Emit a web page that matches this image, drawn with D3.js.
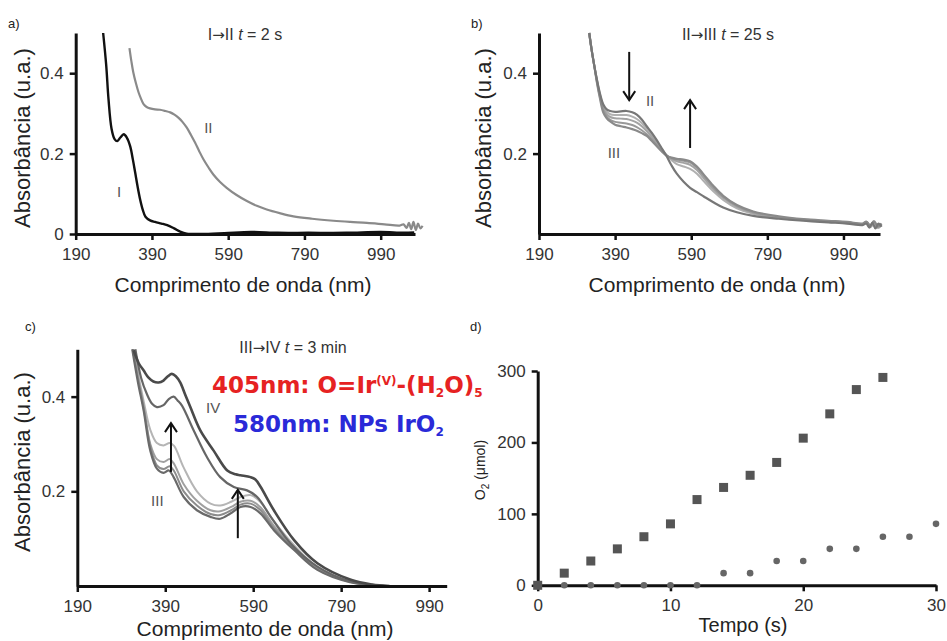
<!DOCTYPE html>
<html>
<head>
<meta charset="utf-8">
<script src="https://cdn.jsdelivr.net/npm/d3@7"></script>
<style>
body { margin: 0; background: #fff; }
text { font-family: "Liberation Sans", Arial, sans-serif; }
</style>
</head>
<body>
<script>
// ---- data ----
const xTicksNm = [190, 390, 590, 790, 990];

// panel a: I -> II, t = 2 s  [nm, absorbance]
const specI = [[262,0.5],[270,0.42],[276,0.336],[284,0.262],[292,0.236],[299,0.231],[307,0.24],[316,0.248],[324,0.24],[333,0.218],[340,0.185],[346,0.153],[352,0.12],[359,0.086],[366,0.06],[373,0.043],[385,0.034],[398,0.03],[415,0.026],[430,0.022],[448,0.014],[464,0.006],[481,0.001],[520,0],[580,0.002],[650,0.005],[720,0.003],[800,0.003],[900,0.003],[990,0.005],[1050,0.003],[1078,0.004]];
const specII = [[331,0.4625],[336,0.43],[341,0.4025],[348,0.375],[355,0.352],[362,0.335],[368,0.323],[376,0.316],[385,0.3125],[398,0.31],[411,0.309],[425,0.306],[438,0.3025],[449,0.297],[460,0.289],[470,0.279],[481,0.265],[492,0.247],[503,0.2275],[514,0.206],[525,0.186],[538,0.166],[551,0.148],[568,0.13],[586,0.115],[612,0.097],[639,0.082],[665,0.07],[691,0.061],[725,0.052],[761,0.044],[810,0.038],[866,0.033],[910,0.03],[954,0.0275],[1000,0.024],[1040,0.021],[1050,0.024],[1058,0.015],[1064,0.028],[1070,0.012],[1076,0.03],[1082,0.01],[1088,0.026],[1094,0.014],[1100,0.02]];

// panel b: II -> III, t = 25 s
const specB_II = [[322,0.5],[328,0.46],[335,0.42],[342,0.385],[350,0.35],[359,0.322],[368,0.31],[377,0.306],[390,0.304],[405,0.305],[420,0.306],[435,0.303],[447,0.297],[460,0.285],[473,0.268],[486,0.252],[499,0.234],[512,0.214],[525,0.194],[538,0.171],[552,0.15],[570,0.13],[587,0.115],[605,0.104],[622,0.094],[648,0.079],[674,0.066],[710,0.054],[753,0.045],[820,0.038],[885,0.033],[950,0.029],[1000,0.026],[1040,0.022],[1050,0.026],[1058,0.016],[1066,0.028],[1074,0.014],[1082,0.026],[1090,0.018]];
const specB_1 = [[322,0.5],[328,0.46],[335,0.42],[342,0.385],[350,0.348],[359,0.318],[368,0.304],[377,0.298],[390,0.296],[405,0.296],[420,0.296],[435,0.292],[447,0.286],[460,0.276],[473,0.262],[486,0.247],[499,0.229],[512,0.212],[525,0.196],[538,0.184],[552,0.174],[570,0.168],[587,0.162],[605,0.15],[622,0.132],[648,0.106],[674,0.085],[710,0.064],[753,0.05],[820,0.04],[885,0.034],[950,0.03],[1000,0.027],[1040,0.023],[1050,0.027],[1060,0.017],[1070,0.027],[1080,0.015],[1090,0.022]];
const specB_2 = [[322,0.5],[328,0.46],[335,0.42],[342,0.383],[350,0.345],[359,0.313],[368,0.298],[377,0.291],[390,0.288],[405,0.287],[420,0.286],[435,0.282],[447,0.277],[460,0.268],[473,0.256],[486,0.242],[499,0.226],[512,0.21],[525,0.196],[538,0.187],[552,0.181],[570,0.177],[587,0.172],[605,0.159],[622,0.14],[648,0.112],[674,0.09],[710,0.068],[753,0.052],[820,0.041],[885,0.035],[950,0.031],[1000,0.028],[1040,0.024],[1052,0.029],[1062,0.018],[1072,0.029],[1082,0.016],[1090,0.024]];
const specB_3 = [[322,0.5],[328,0.46],[335,0.42],[342,0.38],[350,0.342],[359,0.308],[368,0.292],[377,0.284],[390,0.279],[405,0.277],[420,0.275],[435,0.271],[447,0.266],[460,0.258],[473,0.248],[486,0.236],[499,0.222],[512,0.208],[525,0.196],[538,0.189],[552,0.185],[570,0.182],[587,0.178],[605,0.165],[622,0.146],[648,0.117],[674,0.093],[710,0.07],[753,0.054],[820,0.042],[885,0.036],[950,0.032],[1000,0.029],[1040,0.025],[1050,0.03],[1060,0.02],[1070,0.03],[1080,0.018],[1090,0.025]];
const specB_III = [[322,0.5],[328,0.46],[335,0.42],[342,0.378],[350,0.338],[359,0.302],[368,0.288],[377,0.28],[390,0.272],[405,0.268],[420,0.265],[435,0.261],[447,0.257],[460,0.251],[473,0.244],[486,0.232],[499,0.219],[512,0.206],[525,0.195],[538,0.19],[552,0.187],[570,0.185],[587,0.181],[605,0.168],[622,0.149],[648,0.12],[674,0.095],[710,0.072],[753,0.056],[820,0.044],[885,0.037],[950,0.033],[1000,0.03],[1040,0.026],[1050,0.031],[1060,0.021],[1070,0.032],[1080,0.019],[1090,0.026]];

// panel c: III -> IV, t = 3 min
const specC_III = [[315,0.5],[328,0.43],[341,0.37],[356,0.286],[371,0.248],[386,0.239],[398,0.244],[409,0.23],[432,0.188],[462,0.16],[493,0.146],[515,0.142],[538,0.153],[561,0.167],[584,0.167],[607,0.153],[637,0.118],[683,0.076],[736,0.034],[810,0.008],[890,0]];
const specC_1 = [[316,0.5],[329,0.433],[341,0.375],[356,0.295],[371,0.255],[386,0.247],[400,0.253],[410,0.243],[432,0.2],[462,0.17],[493,0.152],[515,0.15],[540,0.16],[561,0.172],[584,0.174],[607,0.16],[637,0.122],[683,0.078],[736,0.036],[810,0.009],[890,0]];
const specC_2 = [[316,0.5],[329,0.435],[341,0.38],[356,0.3],[371,0.268],[386,0.262],[400,0.268],[410,0.258],[432,0.215],[462,0.18],[493,0.16],[515,0.158],[540,0.167],[561,0.178],[584,0.18],[607,0.166],[637,0.127],[683,0.08],[736,0.037],[810,0.009],[892,0]];
const specC_3 = [[318,0.5],[330,0.44],[341,0.39],[356,0.33],[371,0.302],[386,0.297],[400,0.302],[410,0.296],[432,0.25],[462,0.2],[493,0.174],[515,0.17],[540,0.178],[561,0.188],[584,0.192],[607,0.177],[637,0.137],[683,0.086],[736,0.04],[810,0.01],[895,0]];
const specC_4 = [[322,0.5],[335,0.44],[348,0.406],[360,0.385],[371,0.378],[386,0.382],[398,0.395],[409,0.4],[418,0.392],[428,0.381],[455,0.328],[485,0.272],[515,0.23],[546,0.209],[576,0.202],[599,0.188],[630,0.146],[675,0.09],[736,0.041],[810,0.01],[900,0]];
const specC_IV = [[318,0.498],[330,0.47],[341,0.455],[352,0.44],[363,0.432],[375,0.43],[386,0.434],[396,0.443],[405,0.448],[414,0.443],[424,0.43],[435,0.405],[447,0.378],[470,0.328],[500,0.286],[531,0.244],[550,0.236],[561,0.234],[584,0.23],[595,0.225],[607,0.209],[637,0.16],[683,0.097],[736,0.048],[812,0.013],[860,0.003],[900,0]];

// panel d: O2 evolution
const tempoSq = [0, 2, 4, 6, 8, 10, 12, 14, 16, 18, 20, 22, 24, 26];
const o2Sq = [0, 17, 34, 51, 68, 86, 120, 137, 154, 172, 206, 240, 274, 291];
const tempoCi = [0, 2, 4, 6, 8, 10, 12, 14, 16, 18, 20, 22, 24, 26, 28, 30];
const o2Ci = [0, 0, 0, 0, 0, 0, 0, 17, 17, 34, 34, 51, 51, 68, 68, 86];

// ---- drawing ----
const width = 947, height = 641;
const svg = d3.select("body").append("svg")
    .attr("width", width)
    .attr("height", height);

const fmtA = d => d === 0 ? "0" : d3.format(".1f")(d);

function drawAxes(x, y, xTicks, yTicks, xFmt, yFmt) {
  const gx = svg.append("g")
      .attr("transform", `translate(0,${y.range()[0]})`)
      .call(d3.axisBottom(x).tickValues(xTicks).tickSize(6).tickSizeOuter(0).tickPadding(8).tickFormat(xFmt));
  const gy = svg.append("g")
      .attr("transform", `translate(${x.range()[0]},0)`)
      .call(d3.axisLeft(y).tickValues(yTicks).tickSize(6).tickSizeOuter(0).tickPadding(6).tickFormat(yFmt));
  [gx, gy].forEach(g => {
    g.select(".domain").attr("stroke", "#111").attr("stroke-width", 3);
    g.selectAll(".tick line").attr("stroke", "#111").attr("stroke-width", 2.5);
    g.selectAll(".tick text").attr("fill", "#333")
        .style("font-size", "17px").style("font-family", "'Liberation Sans', Arial, sans-serif");
  });
}

function text(x, y, str, size, opts = {}) {
  return svg.append("text")
      .attr("x", x).attr("y", y)
      .attr("text-anchor", opts.anchor || "middle")
      .attr("fill", opts.fill || "#222")
      .attr("transform", opts.rotate ? `rotate(-90,${x},${y})` : null)
      .style("font-size", size + "px")
      .text(str);
}

function title(x, y, from, to, tval) {
  const t = svg.append("text").attr("x", x).attr("y", y)
      .attr("text-anchor", "middle").attr("fill", "#333").style("font-size", "16px");
  t.append("tspan").text(from);
  t.append("tspan").style("font-family", "'DejaVu Sans', sans-serif").style("font-size", "15px").text("\u2192");
  t.append("tspan").text(to + "  ");
  t.append("tspan").attr("font-style", "italic").text("t");
  t.append("tspan").text(" = " + tval);
}

function arrow(x, y, nm, a0, a1) {
  const xp = x(nm), y0 = y(a0), y1 = y(a1);
  const dir = y1 > y0 ? -1 : 1;
  svg.append("line").attr("x1", xp).attr("x2", xp).attr("y1", y0).attr("y2", y1)
      .attr("stroke", "#111").attr("stroke-width", 2);
  svg.append("path")
      .attr("d", `M${xp - 6},${y1 + dir * 9}L${xp},${y1}L${xp + 6},${y1 + dir * 9}`)
      .attr("fill", "none").attr("stroke", "#111").attr("stroke-width", 2);
}

function curve(x, y, data, color, w) {
  const line = d3.line().x(d => x(d[0])).y(d => y(d[1])).curve(d3.curveCatmullRom);
  svg.append("path").datum(data)
      .attr("d", line)
      .attr("fill", "none")
      .attr("stroke", color)
      .attr("stroke-width", w || 2)
      .attr("stroke-linejoin", "round");
}

// panel a
const xa = d3.scaleLinear().domain([190, 1080]).range([75.7, 415]);
const ya = d3.scaleLinear().domain([0, 0.5]).range([234, 33]);
curve(xa, ya, specII, "#8a8a8a", 2.2);
curve(xa, ya, specI, "#111", 2.4);
drawAxes(xa, ya, xTicksNm, [0, 0.2, 0.4], d3.format("d"), fmtA);
text(8, 28, "a)", 13, {anchor: "start"});
title(245, 40, "I", "II", "2 s");
text(xa(304), ya(0.092), "I", 15, {fill: "#555"});
text(xa(538), ya(0.251), "II", 15, {fill: "#555"});
text(243, 292, "Comprimento de onda (nm)", 21);
text(30, 138, "Absorbância (u.a.)", 22, {rotate: true});

// panel b
const xb = d3.scaleLinear().domain([190, 1086]).range([539, 880]);
const yb = d3.scaleLinear().domain([0, 0.5]).range([234, 33]);
curve(xb, yb, specB_1, "#b0b0b0");
curve(xb, yb, specB_2, "#a3a3a3");
curve(xb, yb, specB_3, "#999");
curve(xb, yb, specB_III, "#8a8a8a", 2.2);
curve(xb, yb, specB_II, "#777", 2.2);
drawAxes(xb, yb, xTicksNm, [0.2, 0.4], d3.format("d"), fmtA);
text(471, 28, "b)", 13, {anchor: "start"});
title(728, 40, "II", "III", "25 s");
arrow(xb, yb, 427, 0.453, 0.333);
arrow(xb, yb, 587, 0.214, 0.333);
text(xb(482), yb(0.318), "II", 15, {fill: "#555"});
text(xb(387), yb(0.19), "III", 15, {fill: "#555"});
text(717, 292, "Comprimento de onda (nm)", 21);
text(491, 138, "Absorbância (u.a.)", 22, {rotate: true});

// panel c
const xc = d3.scaleLinear().domain([190, 1030]).range([77.3, 446.7]);
const yc = d3.scaleLinear().domain([0, 0.5]).range([586, 349.3]);
curve(xc, yc, specC_3, "#b5b5b5");
curve(xc, yc, specC_2, "#a0a0a0");
curve(xc, yc, specC_1, "#8c8c8c");
curve(xc, yc, specC_III, "#6a6a6a", 2.2);
curve(xc, yc, specC_4, "#666", 2.2);
curve(xc, yc, specC_IV, "#4a4a4a", 2.6);
drawAxes(xc, yc, xTicksNm, [0.2, 0.4], d3.format("d"), fmtA);
text(25, 331, "c)", 13, {anchor: "start"});
title(293, 353, "III", "IV", "3 min");
arrow(xc, yc, 403, 0.241, 0.344);
arrow(xc, yc, 555, 0.101, 0.203);
text(xc(499), yc(0.365), "IV", 15, {fill: "#555"});
text(xc(372), yc(0.168), "III", 15, {fill: "#555"});
text(265, 636, "Comprimento de onda (nm)", 21);
text(30, 462, "Absorbância (u.a.)", 22, {rotate: true});

// species annotations
const boldFont = "'DejaVu Sans', sans-serif";
const red = svg.append("text").attr("x", 212).attr("y", 393)
    .attr("fill", "#e62222").attr("font-weight", "bold")
    .style("font-family", boldFont).style("font-size", "23px");
red.append("tspan").text("405nm: O=Ir");
red.append("tspan").attr("dy", -8).style("font-size", "12px").text("(V)");
red.append("tspan").attr("dy", 8).text("-(H");
red.append("tspan").attr("dy", 4).style("font-size", "12px").text("2");
red.append("tspan").attr("dy", -4).text("O)");
red.append("tspan").attr("dy", 4).style("font-size", "12px").text("5");
const blue = svg.append("text").attr("x", 233).attr("y", 432)
    .attr("fill", "#2a2ad8").attr("font-weight", "bold")
    .style("font-family", boldFont).style("font-size", "23px");
blue.append("tspan").text("580nm: NPs IrO");
blue.append("tspan").attr("dy", 4).style("font-size", "12px").text("2");

// panel d
const xd = d3.scaleLinear().domain([0, 30]).range([537.7, 936]);
const yd = d3.scaleLinear().domain([0, 300]).range([585.3, 371]);
drawAxes(xd, yd, [0, 10, 20, 30], [0, 100, 200, 300], d3.format("d"), d3.format("d"));
svg.selectAll(".ci").data(tempoCi).enter().append("circle")
    .attr("cx", (d, i) => xd(d)).attr("cy", (d, i) => yd(o2Ci[i]))
    .attr("r", 3.3).attr("fill", "#666");
svg.selectAll(".sq").data(tempoSq).enter().append("rect")
    .attr("x", (d, i) => xd(d) - 4.5).attr("y", (d, i) => yd(o2Sq[i]) - 4.5)
    .attr("width", 9).attr("height", 9).attr("fill", "#555");
text(470, 331, "d)", 13, {anchor: "start"});
text(743, 632, "Tempo (s)", 20);
const o2 = svg.append("text").attr("x", 485).attr("y", 470)
    .attr("text-anchor", "middle").attr("fill", "#222")
    .attr("transform", "rotate(-90,485,470)").style("font-size", "14px");
o2.append("tspan").text("O");
o2.append("tspan").attr("dy", 4).style("font-size", "10px").text("2");
o2.append("tspan").attr("dy", -4).text(" (\u03bcmol)");
</script>
</body>
</html>
